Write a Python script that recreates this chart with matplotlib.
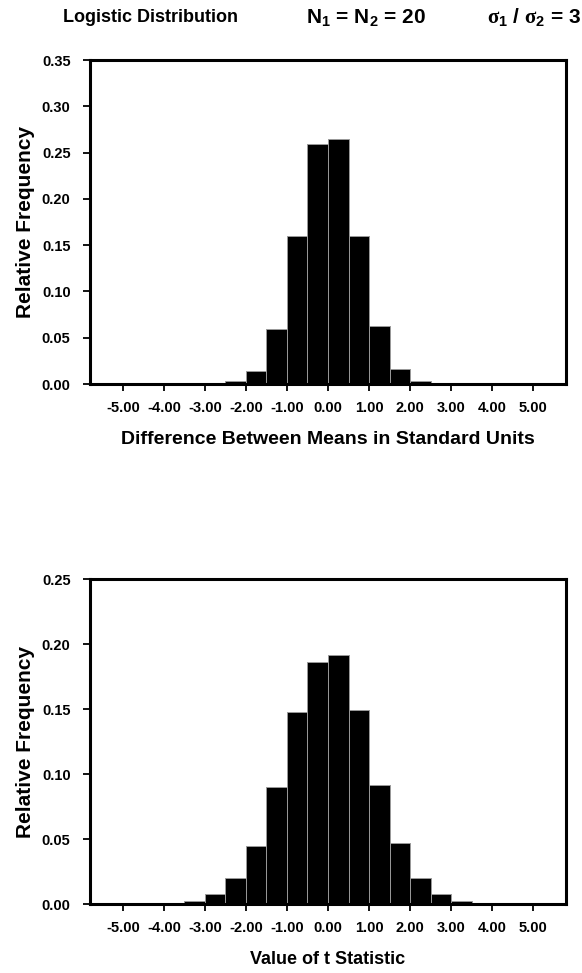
import numpy as np
import matplotlib
matplotlib.use("Agg")
from matplotlib import pyplot as plt

plt.rcParams['font.family'] = ['Liberation Sans', 'DejaVu Sans']
plt.rcParams['font.weight'] = 'bold'
plt.rcParams['mathtext.fontset'] = 'custom'
plt.rcParams['mathtext.rm'] = 'Liberation Sans:bold'
plt.rcParams['mathtext.bf'] = 'Liberation Sans:bold'
plt.rcParams['mathtext.it'] = 'Liberation Serif:bold'
plt.rcParams['mathtext.default'] = 'rm'

# bin centres (width 0.5) shared by both histograms
bin_centers = [-3.25, -2.75, -2.25, -1.75, -1.25, -0.75, -0.25,
               0.25, 0.75, 1.25, 1.75, 2.25, 2.75, 3.25]

# difference between means, standard units
diff_freq = [0.0, 0.0005, 0.003, 0.014, 0.059, 0.160, 0.259,
             0.265, 0.160, 0.0625, 0.016, 0.003, 0.0005, 0.0]

# t statistic
t_freq = [0.002, 0.0077, 0.020, 0.045, 0.090, 0.148, 0.186,
          0.1915, 0.149, 0.0915, 0.047, 0.020, 0.0077, 0.002]

x_ticks = [-5, -4, -3, -2, -1, 0, 1, 2, 3, 4, 5]


def draw_hist(ax, freq, ymax, ystep, xlabel, xlabel_size):
    ax.bar(bin_centers, freq, width=0.5, color='black',
           edgecolor='0.6', linewidth=0.7)
    ax.set_xlim(-5.8, 5.8)
    ax.set_ylim(0, ymax)
    ax.set_xticks(x_ticks)
    ax.set_xticklabels(['%.2f' % v for v in x_ticks])
    yt = np.arange(0, ymax + 1e-9, ystep)
    ax.set_yticks(yt)
    ax.set_yticklabels(['%.2f' % v for v in yt])
    for s in ax.spines.values():
        s.set_linewidth(2.2)
    ax.tick_params(axis='both', direction='out', length=5, width=1.3,
                   labelsize=10.5)
    ax.tick_params(axis='y', pad=9)
    ax.tick_params(axis='x', pad=7)
    ax.set_ylabel('Relative Frequency', fontsize=15, fontweight='bold',
                  labelpad=5)
    ax.set_xlabel(xlabel, fontsize=xlabel_size, fontweight='bold', labelpad=12)


fig = plt.figure(figsize=(5.82, 9.73), dpi=100)
ax1 = fig.add_axes([0.1546, 0.6053, 0.8179, 0.333])
ax2 = fig.add_axes([0.1546, 0.0709, 0.8179, 0.334])

draw_hist(ax1, diff_freq, 0.35, 0.05, 'Difference Between Means in Standard Units', 14)
draw_hist(ax2, t_freq, 0.25, 0.05, 'Value of t Statistic', 13)

ty = 1 - 18 / 973
fig.text(63 / 582, ty, 'Logistic Distribution', fontsize=13,
         fontweight='bold', va='center', ha='left')
fig.text(306 / 582, ty, r'$\mathrm{N}_1$ = $\mathrm{N}_2$ = 20', fontsize=15,
         fontweight='bold', va='center', ha='left')
fig.text(487 / 582, ty, r'$\mathit{\sigma}_\mathit{1}$ / $\mathit{\sigma}_\mathit{2}$ = 3',
         fontsize=15, fontweight='bold', va='center', ha='left')

fig.savefig('out.png', dpi=100)
